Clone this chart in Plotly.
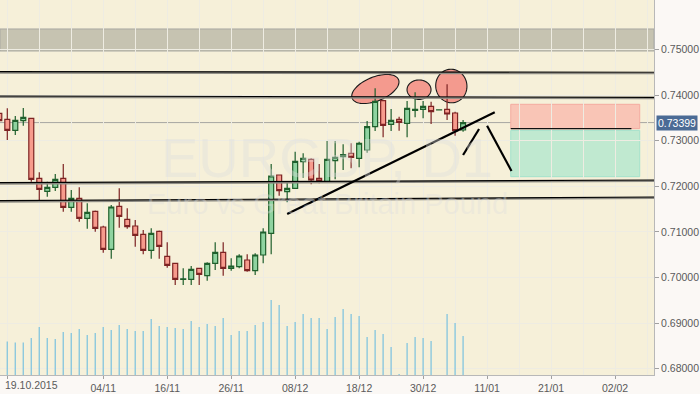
import numpy as np
import plotly.graph_objects as go

# ---------------- data ----------------
bar_index = list(range(-1, 58))
opens = [0.73603, 0.73471, 0.73230, 0.73440, 0.73493, 0.72176, 0.71891, 0.71979, 0.72176, 0.71540,
         0.71738, 0.71299, 0.71452, 0.71108, 0.70618, 0.71562, 0.71277, 0.71130, 0.70948, 0.70596,
         0.71013, 0.70465, 0.70311, 0.69960, 0.69960, 0.70201, 0.70039, 0.70311, 0.70553, 0.70201,
         0.70237, 0.70384, 0.70149, 0.70493, 0.70970, 0.72249, 0.71882, 0.71957, 0.72541, 0.72593,
         0.72176, 0.72102, 0.72563, 0.72650, 0.72725, 0.72615, 0.72797, 0.73309, 0.73879, 0.73361,
         0.73471, 0.73383, 0.73669, 0.73691, 0.73756, 0.73675, 0.73691, 0.73609, 0.73236]
highs = [0.73653, 0.73713, 0.73544, 0.73719, 0.73500, 0.72308, 0.72102, 0.72271, 0.72490, 0.71920,
         0.71979, 0.71628, 0.71470, 0.71136, 0.71591, 0.71957, 0.71518, 0.71261, 0.71042, 0.71079,
         0.71030, 0.70772, 0.70320, 0.70201, 0.70252, 0.70210, 0.70333, 0.70772, 0.70772, 0.70421,
         0.70509, 0.70509, 0.70531, 0.71079, 0.72490, 0.72260, 0.72089, 0.72760, 0.72725, 0.72615,
         0.72490, 0.72995, 0.72995, 0.72923, 0.72945, 0.72980, 0.73434, 0.74151, 0.73900, 0.73697,
         0.73528, 0.73873, 0.74064, 0.73873, 0.73857, 0.73678, 0.74239, 0.73638, 0.73456]
lows = [0.73412, 0.73017, 0.73127, 0.73331, 0.72102, 0.71700, 0.71773, 0.71898, 0.71444, 0.71444,
        0.71224, 0.71070, 0.71005, 0.70544, 0.70412, 0.71092, 0.71070, 0.70675, 0.70509, 0.70412,
        0.70412, 0.70215, 0.69835, 0.69835, 0.69835, 0.69835, 0.69929, 0.70164, 0.70039, 0.70149,
        0.70201, 0.70127, 0.70054, 0.70311, 0.70509, 0.71795, 0.71650, 0.71940, 0.72190, 0.72045,
        0.72067, 0.72090, 0.72154, 0.72359, 0.72396, 0.72418, 0.72738, 0.73214, 0.73076, 0.73214,
        0.73221, 0.73076, 0.73515, 0.73493, 0.73368, 0.73674, 0.73456, 0.73111, 0.73199]
closes = [0.73440, 0.73230, 0.73449, 0.73515, 0.72154, 0.71935, 0.71979, 0.72154, 0.71540, 0.71738,
          0.71299, 0.71430, 0.71079, 0.70618, 0.71547, 0.71343, 0.71114, 0.70926, 0.70596, 0.70970,
          0.70684, 0.70267, 0.69960, 0.69970, 0.70180, 0.70070, 0.70311, 0.70553, 0.70201, 0.70252,
          0.70471, 0.70149, 0.70493, 0.70998, 0.72227, 0.71904, 0.71957, 0.72549, 0.72615, 0.72139,
          0.72117, 0.72593, 0.72637, 0.72694, 0.72637, 0.72945, 0.73309, 0.73866, 0.73339, 0.73449,
          0.73405, 0.73713, 0.73691, 0.73756, 0.73638, 0.73677, 0.73587, 0.73221, 0.73399]
volumes = [70, 67, 65, 65, 74, 96, 74, 72, 86, 84, 92, 80, 84, 96, 90, 100, 92, 88, 88, 112, 98,
           96, 94, 92, 108, 96, 102, 98, 114, 80, 88, 88, 100, 106, 150, 140, 98, 106, 122, 114,
           114, 92, 116, 132, 122, 118, 76, 90, 82, 56, 2, 64, 76, 74, 68, 0, 122, 104, 78]

tick_positions = [12, 20, 28, 36, 44, 52, 60, 68, 76]
tick_labels = ["04/11", "16/11", "26/11", "08/12", "18/12", "30/12", "11/01", "21/01", "02/02"]
first_date_label = "19.10.2015"
price_ticks = [0.68, 0.69, 0.70, 0.71, 0.72, 0.73, 0.74, 0.75]
last_price = 0.73399

# drawn objects (in bar-index / price units)
resistance_band = (0.74970, 0.75453)
level_lines = [(0.74516, 0.74503), (0.73982, 0.73954), (0.72080, 0.72139), (0.71685, 0.71766)]
trend_lines = [((35.0, 0.71393), (60.96, 0.73625)),
               ((57.0, 0.72688), (59.0, 0.73258)),
               ((60.0, 0.73331), (63.05, 0.72337))]
target_box = (62.96, 79.09, 0.73266, 0.73800)
stop_box = (62.96, 79.09, 0.72212, 0.73228)
entry_line = (62.96, 78.05, 0.73265)
ellipses = [(46.03, 0.74136, 25.0, 12.0, 22.0),
            (51.49, 0.74121, 12.0, 9.7, 0.0),
            (55.53, 0.74202, 15.6, 16.8, 8.0)]

# ---------------- layout geometry ----------------
W, H = 700, 394
ML, MR, MT, MB = 0, 46, 0, 19
X_RANGE = [-0.9125, 80.875]
Y_RANGE = [0.67860, 0.76089]
sx = (W - ML - MR) / (X_RANGE[1] - X_RANGE[0])
sy = (H - MT - MB) / (Y_RANGE[1] - Y_RANGE[0])

BG = "#f6f0d9"
GRID = "#eeece2"
FONT = "Liberation Sans, Arial, sans-serif"

fig = go.Figure()

fig.add_trace(go.Bar(
    x=bar_index, y=volumes, yaxis="y2", width=0.18,
    marker=dict(color="#8ec9de", line=dict(width=0)), hoverinfo="skip"))

fig.add_trace(go.Candlestick(
    x=bar_index, open=opens, high=highs, low=lows, close=closes,
    increasing=dict(line=dict(color="#1f5f2c", width=1.2), fillcolor="#8fd3a0"),
    decreasing=dict(line=dict(color="#7d2323", width=1.2), fillcolor="#f79b8d"),
    whiskerwidth=0, hoverinfo="skip"))

shapes = []
# resistance band
shapes.append(dict(type="rect", xref="paper", yref="y", x0=0, x1=1,
                   y0=resistance_band[0], y1=resistance_band[1],
                   fillcolor="#c6c3b1", line=dict(color="#a9a9a2", width=1), layer="below"))
# current price line
shapes.append(dict(type="line", xref="paper", yref="y", x0=0, x1=1, y0=last_price, y1=last_price,
                   line=dict(color="#a6a6a2", width=1), layer="below"))
# target / stop boxes
shapes.append(dict(type="rect", xref="x", yref="y", x0=target_box[0], x1=target_box[1],
                   y0=target_box[2], y1=target_box[3], fillcolor="#f9c5b6",
                   line=dict(color="#f4aba0", width=1), layer="below"))
shapes.append(dict(type="rect", xref="x", yref="y", x0=stop_box[0], x1=stop_box[1],
                   y0=stop_box[2], y1=stop_box[3], fillcolor="#c0e9d0",
                   line=dict(color="#a3e2cc", width=1), layer="below"))
shapes.append(dict(type="line", xref="x", yref="y", x0=entry_line[0], x1=entry_line[1],
                   y0=entry_line[2], y1=entry_line[2], line=dict(color="#111111", width=1.3)))
# level lines (gray shadow + black line)
for y0, y1 in level_lines:
    shapes.append(dict(type="line", xref="paper", yref="y", x0=0, x1=1,
                       y0=y0 - 1.0 / sy, y1=y1 - 1.0 / sy,
                       line=dict(color="#8f8d85", width=2)))
    shapes.append(dict(type="line", xref="paper", yref="y", x0=0, x1=1, y0=y0, y1=y1,
                       line=dict(color="#000000", width=1.2)))
# trend lines
for (xa, ya), (xb, yb) in trend_lines:
    shapes.append(dict(type="line", xref="x", yref="y", x0=xa, y0=ya, x1=xb, y1=yb,
                       line=dict(color="#000000", width=2.2)))
# ellipses
for cx, cy, a, b, ang in ellipses:
    t = np.linspace(0, 2 * np.pi, 73)
    th = np.radians(ang)
    dx = a * np.cos(t) * np.cos(th) - b * np.sin(t) * np.sin(th)
    dy = a * np.cos(t) * np.sin(th) + b * np.sin(t) * np.cos(th)
    xs = cx + dx / sx
    ys = cy + dy / sy
    path = "M " + " L ".join(f"{xv:.4f},{yv:.6f}" for xv, yv in zip(xs, ys)) + " Z"
    shapes.append(dict(type="path", xref="x", yref="y", path=path,
                       fillcolor="rgba(243,146,136,0.92)",
                       line=dict(color="#1a1a1a", width=1.1), layer="between"))

annotations = [
    dict(text="EURGBP, D1", xref="paper", yref="paper", x=0.5, y=(H - MB - 157) / (H - MB - MT),
         xanchor="center", yanchor="middle", showarrow=False,
         font=dict(family=FONT, size=56, color="rgba(222,222,222,0.38)")),
    dict(text="Euro vs Great Britain Pound", xref="paper", yref="paper", x=0.5,
         y=(H - MB - 204) / (H - MB - MT), xanchor="center", yanchor="middle", showarrow=False,
         font=dict(family=FONT, size=29, color="rgba(222,222,222,0.38)")),
    dict(text=f"{last_price:.5f}", xref="paper", yref="y", x=1, y=last_price,
         xanchor="left", yanchor="middle", xshift=2, showarrow=False, bgcolor="#4b6b95",
         borderpad=1, font=dict(family=FONT, size=10.5, color="#ffffff")),
    dict(text=first_date_label, xref="x", yref="paper", x=-0.55, y=0, xanchor="left",
         yanchor="top", yshift=-2, showarrow=False,
         font=dict(family=FONT, size=10.5, color="#5a5a5a")),
]

fig.update_layout(
    width=W, height=H, autosize=False,
    margin=dict(l=ML, r=MR, t=MT, b=MB, pad=0),
    paper_bgcolor="#fbf8f5", plot_bgcolor=BG,
    showlegend=False, hovermode=False, boxgap=0.38, boxgroupgap=0,
    font=dict(family=FONT, size=10.5, color="#5a5a5a"),
    shapes=shapes, annotations=annotations,
    xaxis=dict(range=X_RANGE, rangeslider=dict(visible=False), tickmode="array",
               tickvals=[0] + tick_positions, ticktext=[""] + tick_labels,
               showgrid=True, gridcolor=GRID, gridwidth=1, zeroline=False,
               showline=True, linecolor="#b8b8b8", linewidth=1,
               ticks="outside", ticklen=3, tickcolor="#a0a0a0",
               minor=dict(tickvals=list(range(0, 81, 4)), showgrid=True, gridcolor=GRID,
                          gridwidth=1, ticks="")),
    yaxis=dict(range=Y_RANGE, side="right", tickmode="array", tickvals=price_ticks,
               ticktext=[f"{v:.5f}" for v in price_ticks],
               showgrid=True, gridcolor=GRID, gridwidth=1, zeroline=False,
               showline=True, linecolor="#b8b8b8", linewidth=1,
               ticks="outside", ticklen=4, tickcolor="#a0a0a0"),
    yaxis2=dict(range=[0, 750], overlaying="y", visible=False, fixedrange=True),
)

fig.write_html("out.html", config={"displayModeBar": False, "staticPlot": True},
               post_script="document.body.style.margin='0';")
